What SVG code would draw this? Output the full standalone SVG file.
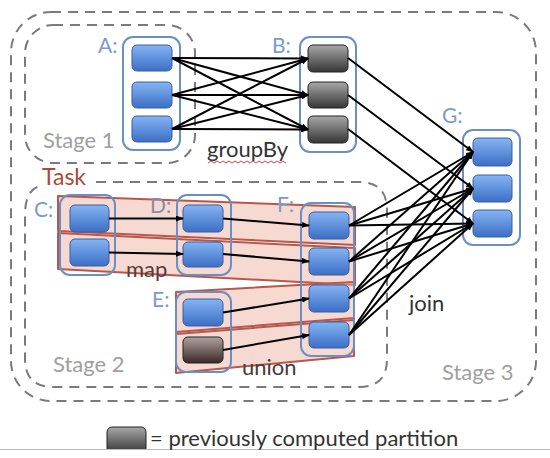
<svg xmlns="http://www.w3.org/2000/svg" width="550" height="458" viewBox="0 0 550 458">
<style>
.stage{fill:none;stroke:#7a7a7a;stroke-width:2;stroke-dasharray:10 7}
.cont{fill:none;stroke:#6a8fc4;stroke-width:2}
.blue{fill:url(#gb);stroke:#3a5f9f;stroke-width:1}
.gray{fill:url(#gg);stroke:#222;stroke-width:1}
.band{fill:#eeb4a4;fill-opacity:0.5;stroke:#b8574d;stroke-width:2;stroke-linejoin:round}
.conn line{stroke:#000;stroke-width:2;marker-end:url(#ah)}
text{font-family:Lato,"Open Sans","DejaVu Sans",sans-serif}
.lbl{fill:#7a9cc8;font-size:21px}
.stg{fill:#a0a0a0;font-size:22px}
.op{fill:#333;font-size:22px}
</style>
<defs>
<linearGradient id="gb" x1="0" y1="0" x2="0" y2="1"><stop offset="0" stop-color="#86b4f2"/><stop offset="1" stop-color="#3b6fc6"/></linearGradient>
<linearGradient id="gg" x1="0" y1="0" x2="0" y2="1"><stop offset="0" stop-color="#a8a8a8"/><stop offset="1" stop-color="#353535"/></linearGradient>
<linearGradient id="gbr" x1="0" y1="0" x2="0" y2="1"><stop offset="0" stop-color="#b0a0a0"/><stop offset="1" stop-color="#3a2a26"/></linearGradient>
<marker id="ah" markerWidth="8" markerHeight="6" refX="7" refY="3" orient="auto" markerUnits="userSpaceOnUse"><path d="M0,0 L8,3 L0,6 Z" fill="#000"/></marker>
</defs>
<rect width="550" height="458" fill="#fff"/>
<g id="stages">
<rect class="stage" x="11" y="12" width="525" height="389" rx="40"/>
<rect class="stage" x="25" y="25" width="170" height="138" rx="28"/>
<path class="stage" d="M96,182 L359,182 Q387,182 387,210 L387,359 Q387,387 359,387 L53,387 Q25,387 25,359 L25,215 Q25,190 40,186"/>
<text class="stg" x="43" y="148">Stage 1</text>
<text class="stg" x="53" y="372">Stage 2</text>
<text class="stg" x="442" y="380">Stage 3</text>
</g>
<g id="tasks">
<polygon class="band" points="58,196 355,207 355,245 58,231"/>
<polygon class="band" points="58,233 355,248 355,285 58,269"/>
<polygon class="band" points="176,292 354,282 354,318 176,332"/>
<polygon class="band" points="176,334 354,320 354,356 176,373"/>
<text x="42" y="185" fill="#a84a3a" font-size="23">Task</text>
</g>
<g id="A">
<rect class="cont" x="123" y="37" width="57" height="113" rx="10"/>
<rect class="blue" x="132" y="45" width="40" height="26" rx="5"/>
<rect class="blue" x="132" y="82" width="40" height="26" rx="5"/>
<rect class="blue" x="132" y="116" width="40" height="26" rx="5"/>
<text class="lbl" x="98" y="53">A:</text>
</g>
<g id="B">
<rect class="cont" x="300" y="37" width="56" height="115" rx="10"/>
<rect class="gray" x="308" y="45" width="40" height="27" rx="5"/>
<rect class="gray" x="308" y="82" width="40" height="26" rx="5"/>
<rect class="gray" x="308" y="116" width="40" height="27" rx="5"/>
<text class="lbl" x="272" y="53">B:</text>
</g>
<g id="G">
<rect class="cont" x="463" y="130" width="57" height="115" rx="10"/>
<rect class="blue" x="473" y="138" width="39" height="28" rx="5"/>
<rect class="blue" x="473" y="175" width="39" height="27" rx="5"/>
<rect class="blue" x="473" y="210" width="39" height="27" rx="5"/>
<text class="lbl" x="442" y="123">G:</text>
</g>
<g id="C">
<rect class="cont" x="60" y="195" width="55" height="80" rx="10"/>
<rect class="blue" x="70" y="205" width="39" height="27" rx="5"/>
<rect class="blue" x="70" y="239" width="39" height="27" rx="5"/>
<text class="lbl" x="34" y="217">C:</text>
</g>
<g id="D">
<rect class="cont" x="177" y="195" width="54" height="80" rx="10"/>
<rect class="blue" x="183" y="205" width="40" height="27" rx="5"/>
<rect class="blue" x="183" y="242" width="40" height="25" rx="5"/>
<text x="150" y="213" fill="#8a8aa6" font-size="21">D:</text>
</g>
<g id="E">
<rect class="cont" x="176" y="292" width="55" height="80" rx="10"/>
<rect class="blue" x="183" y="299" width="40" height="27" rx="5"/>
<rect x="183" y="337" width="40" height="26" rx="5" fill="url(#gbr)" stroke="#222" stroke-width="1"/>
<text class="lbl" x="152" y="307">E:</text>
</g>
<g id="F">
<rect class="cont" x="301" y="203" width="53" height="153" rx="10"/>
<rect class="blue" x="309" y="212" width="40" height="27" rx="5"/>
<rect class="blue" x="309" y="248" width="40" height="27" rx="5"/>
<rect class="blue" x="309" y="285" width="40" height="27" rx="5"/>
<rect class="blue" x="309" y="322" width="40" height="26" rx="5"/>
<text class="lbl" x="277" y="212">F:</text>
</g>
<g id="connectors" class="conn">
<line x1="172" y1="58" x2="308" y2="58.5"/>
<line x1="172" y1="58" x2="308" y2="95"/>
<line x1="172" y1="58" x2="308" y2="129.5"/>
<line x1="172" y1="95" x2="308" y2="58.5"/>
<line x1="172" y1="95" x2="308" y2="95"/>
<line x1="172" y1="95" x2="308" y2="129.5"/>
<line x1="172" y1="129" x2="308" y2="58.5"/>
<line x1="172" y1="129" x2="308" y2="95"/>
<line x1="172" y1="129" x2="308" y2="129.5"/>
<line x1="348" y1="58" x2="473" y2="152"/>
<line x1="348" y1="95" x2="473" y2="188.5"/>
<line x1="348" y1="129" x2="473" y2="223.5"/>
<line x1="109" y1="218.5" x2="183" y2="218.5"/>
<line x1="109" y1="252.5" x2="183" y2="254"/>
<line x1="223" y1="218.5" x2="309" y2="225.5"/>
<line x1="223" y1="254" x2="309" y2="261.5"/>
<line x1="223" y1="312.5" x2="309" y2="298.5"/>
<line x1="223" y1="350" x2="309" y2="335"/>
<line x1="349" y1="225.5" x2="473" y2="152"/>
<line x1="349" y1="225.5" x2="473" y2="188.5"/>
<line x1="349" y1="225.5" x2="473" y2="223.5"/>
<line x1="349" y1="261.5" x2="473" y2="152"/>
<line x1="349" y1="261.5" x2="473" y2="188.5"/>
<line x1="349" y1="261.5" x2="473" y2="223.5"/>
<line x1="349" y1="298.5" x2="473" y2="152"/>
<line x1="349" y1="298.5" x2="473" y2="188.5"/>
<line x1="349" y1="298.5" x2="473" y2="223.5"/>
<line x1="349" y1="335" x2="473" y2="152"/>
<line x1="349" y1="335" x2="473" y2="188.5"/>
<line x1="349" y1="335" x2="473" y2="223.5"/>
</g>
<g id="labels">
<text class="op" x="207" y="157">groupBy</text>
<path d="M208,163 l3,-2 l3,2 l3,-2 l3,2 l3,-2 l3,2 l3,-2 l3,2 l3,-2 l3,2 l3,-2 l3,2 l3,-2 l3,2 l3,-2 l3,2 l3,-2 l3,2 l3,-2 l3,2 l3,-2 l3,2 l3,-2 l3,2 l3,-2 l3,2" fill="none" stroke="#e04040" stroke-width="1"/>
<text x="126" y="277" fill="#5a3a3a" font-size="22">map</text>
<text x="242" y="375" fill="#4a3a3a" font-size="22">union</text>
<text class="op" x="409" y="311">join</text>
</g>
<g id="legend">
<rect x="107" y="427" width="39" height="26" rx="5" fill="url(#gg)" stroke="#222" stroke-width="1"/>
<rect x="0" y="449" width="550" height="9" fill="#fff"/>
<line x1="0" y1="449.5" x2="550" y2="449.5" stroke="#bbb" stroke-width="1"/>
<text x="150" y="446" fill="#333" font-size="22">= previously computed partition</text>
</g>
</svg>
